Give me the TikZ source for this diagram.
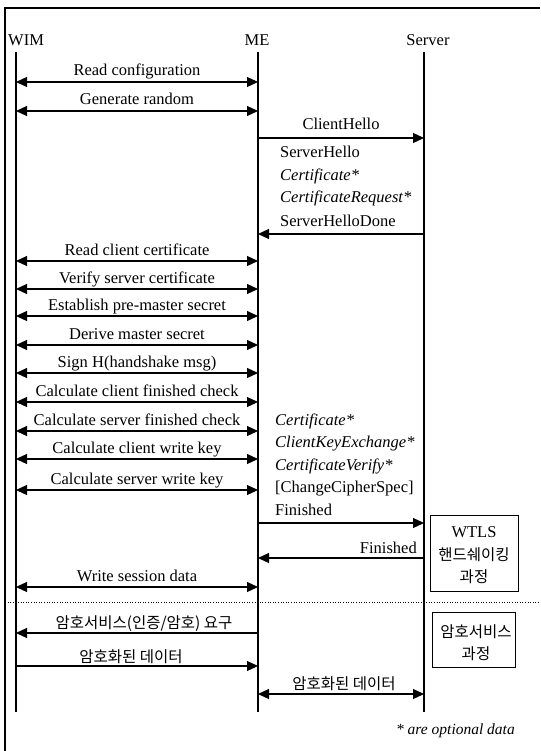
\documentclass[tikz,border=0pt]{standalone}
\usepackage{fontspec}
\setmainfont{Liberation Serif}
\newfontfamily\kr{Noto Sans CJK KR}
\usetikzlibrary{arrows.meta}
\begin{document}
\begin{tikzpicture}[x=1pt,y=-1pt,
  lifeline/.style={line width=2pt},
  msg/.style={line width=1.2pt,-{Triangle[length=11pt,width=10pt]}},
  both/.style={line width=1.2pt,{Triangle[length=11pt,width=10pt]}-{Triangle[length=11pt,width=10pt]}},
  lbl/.style={font=\fontsize{16.5}{20}\selectfont, inner sep=0pt, anchor=base},
  krlbl/.style={font=\kr\fontsize{15.5}{18}\selectfont, inner sep=0pt, anchor=base},
  phase/.style={draw, line width=0.9pt, inner sep=0pt}]
\useasboundingbox (0,0) rectangle (540,751);

% outer frame (open to the right and bottom)
\draw[line width=1.1pt] (5,751) -- (5,8) -- (540,8);

% participants
\node[lbl, anchor=base west] (hwim) at (8,46) {WIM};
\node[lbl] (hme) at (257,46) {ME};
\node[lbl] (hsrv) at (428,46) {Server};

% lifelines
\coordinate (wimT) at (16,52);  \coordinate (wimB) at (16,712);
\coordinate (meT)  at (258,52); \coordinate (meB)  at (258,712);
\coordinate (srvT) at (424,52); \coordinate (srvB) at (424,712);
\draw[lifeline] (wimT) -- (wimB);
\draw[lifeline] (meT) -- (meB);
\draw[lifeline] (srvT) -- (srvB);

% local WIM <-> ME operations
\foreach \y/\t [count=\i] in {82/Read configuration, 111/Generate random,
    261/Read client certificate, 289/Verify server certificate,
    316/Establish pre-master secret, 345/Derive master secret,
    373/Sign H(handshake msg), 402/Calculate client finished check,
    431/Calculate server finished check, 459/Calculate client write key,
    490/Calculate server write key, 587/Write session data}
{
  \coordinate (w\i) at (16,\y);
  \coordinate (m\i) at (258,\y);
  \draw[both] (w\i) -- node[lbl, yshift=6pt] {\t} (m\i);
}

% ClientHello
\coordinate (mch) at (258,138); \coordinate (sch) at (424,138);
\draw[msg] (mch) -- node[lbl, yshift=8pt] {ClientHello} (sch);

% ServerHello flight
\node[lbl, anchor=base west] (sh1) at (280,158) {ServerHello};
\node[lbl, anchor=base west] (sh2) at (280,181) {\itshape Certificate*};
\node[lbl, anchor=base west] (sh3) at (280,203) {\itshape CertificateRequest*};
\node[lbl, anchor=base west] (sh4) at (280,226) {ServerHelloDone};
\coordinate (ssh) at (424,234); \coordinate (msh) at (258,234);
\draw[msg] (ssh) -- (msh);

% client flight
\node[lbl, anchor=base west] (cf1) at (275,425) {\itshape Certificate*};
\node[lbl, anchor=base west] (cf2) at (275,447) {\itshape ClientKeyExchange*};
\node[lbl, anchor=base west] (cf3) at (275,470) {\itshape CertificateVerify*};
\node[lbl, anchor=base west] (cf4) at (275,492) {[ChangeCipherSpec]};
\node[lbl, anchor=base west] (cf5) at (275,515) {Finished};
\coordinate (mcf) at (258,523); \coordinate (scf) at (424,523);
\draw[msg] (mcf) -- (scf);

% server Finished
\coordinate (ssf) at (424,558); \coordinate (msf) at (258,558);
\draw[msg] (ssf) -- (msf);
\node[lbl, anchor=base east] (sfin) at (417,553) {Finished};

% handshake phase box
\node[phase, minimum width=88pt, minimum height=76pt] (wtls) at (474,553) {};
\node[lbl] (wtls1) at (474,537) {WTLS};
\node[krlbl] (wtls2) at (474,560) {핸드쉐이킹};
\node[krlbl] (wtls3) at (474,582) {과정};

% phase separator
\draw[line width=1pt, dash pattern=on 1pt off 1.6pt] (5,602) -- (540,602);

% crypto service phase
\coordinate (mreq) at (258,633); \coordinate (wreq) at (16,633);
\draw[msg] (mreq) -- node[krlbl, yshift=5pt, xshift=7pt] {암호서비스(인증/암호) 요구} (wreq);
\coordinate (wenc) at (16,666); \coordinate (menc) at (258,666);
\draw[msg] (wenc) -- node[krlbl, yshift=4pt, xshift=-6pt] {암호화된 데이터} (menc);
\coordinate (menc2) at (258,694); \coordinate (senc) at (424,694);
\draw[both] (menc2) -- node[krlbl, yshift=5pt, xshift=3pt] {암호화된 데이터} (senc);

\node[phase, minimum width=83pt, minimum height=55pt] (svc) at (473.5,639.5) {};
\node[krlbl] (svc1) at (476,637) {암호서비스};
\node[krlbl] (svc2) at (476,659) {과정};

% footnote
\node[lbl, anchor=base east, font=\itshape\fontsize{15.5}{18}\selectfont] (note) at (515,734) {* are optional data};
\end{tikzpicture}
\end{document}
